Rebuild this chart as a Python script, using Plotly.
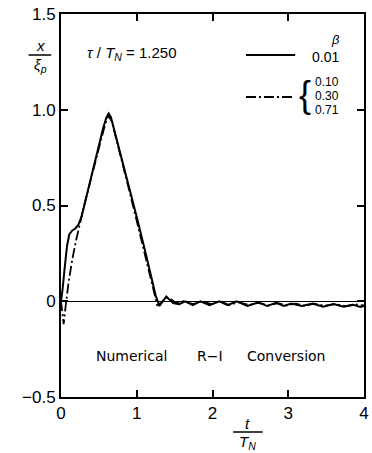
import plotly.graph_objects as go

# beta = 0.01 (solid)
t_solid = [0, 0.02, 0.05, 0.08, 0.11, 0.15, 0.19, 0.23, 0.27, 0.32, 0.38, 0.44, 0.50, 0.56, 0.60, 0.63,
           0.66, 0.72, 0.80, 0.90, 1.00, 1.10, 1.20, 1.25, 1.30, 1.39, 1.48, 1.56, 1.64, 1.74, 1.84,
           1.96, 2.09, 2.20, 2.32, 2.46, 2.61, 2.72, 2.84, 2.94, 3.04, 3.18, 3.32, 3.46, 3.60, 3.73,
           3.86, 3.95, 4.0]
x_solid = [0, 0.06, 0.18, 0.29, 0.35, 0.37, 0.38, 0.40, 0.44, 0.52, 0.63, 0.72, 0.81, 0.91, 0.96, 0.98,
           0.96, 0.87, 0.75, 0.60, 0.44, 0.28, 0.12, 0.03, -0.025, 0.025, -0.01, -0.015, 0.0, -0.02, 0.0,
           -0.02, 0.0, -0.02, 0.0, -0.025, -0.005, -0.025, -0.008, -0.025, -0.012, -0.025, -0.012, -0.028,
           -0.015, -0.028, -0.018, -0.03, -0.025]

# beta = 0.10, 0.30, 0.71 (dash-dot)
t_dd = [0, 0.015, 0.035, 0.06, 0.10, 0.15, 0.20, 0.30, 0.40, 0.50, 0.58, 0.625, 0.67, 0.75, 0.85, 0.95,
        1.05, 1.15, 1.22, 1.27, 1.32, 1.38, 1.44, 1.52, 1.62, 1.74, 1.86, 1.98, 2.10, 2.22, 2.34, 2.48,
        2.60, 2.74, 2.86, 2.98, 3.10, 3.22, 3.34, 3.48, 3.62, 3.76, 3.88, 4.0]
x_dd = [0, -0.06, -0.12, -0.03, 0.10, 0.22, 0.32, 0.49, 0.65, 0.80, 0.92, 0.97, 0.94, 0.82, 0.66, 0.50,
        0.34, 0.18, 0.06, -0.02, -0.01, 0.02, 0.015, -0.01, 0.0, -0.015, 0.0, -0.015, 0.0, -0.02, -0.005,
        -0.02, -0.008, -0.022, -0.01, -0.022, -0.012, -0.024, -0.012, -0.024, -0.015, -0.026, -0.016, -0.022]

x_ticks = [0, 1, 2, 3, 4]
x_tick_labels = ["0", "1", "2", "3", "4"]
y_ticks = [-0.5, 0, 0.5, 1.0, 1.5]
y_tick_labels = ["\u22120.5", "0", "0.5", "1.0", "1.5"]

FONT = "Liberation Sans"
W, H = 372, 453
L, R, T, B = 61, 3, 14, 56
pw, ph = W - L - R, H - T - B

def px(xp):
    return (xp - L) / pw

def py(yp):
    return (H - B - yp) / ph

fig = go.Figure()
fig.add_trace(go.Scatter(x=t_dd, y=x_dd, mode="lines",
                         line=dict(color="black", width=1.8, dash="10px,3px,2px,3px"),
                         showlegend=False))
fig.add_trace(go.Scatter(x=t_solid, y=x_solid, mode="lines",
                         line=dict(color="black", width=2.0), showlegend=False))

ann = []
def a(text, xp, yp, size=15, family=FONT):
    ann.append(dict(text=text, x=px(xp), y=py(yp), xref="paper", yref="paper",
                    xanchor="center", yanchor="middle",
                    showarrow=False, font=dict(family=family, size=size, color="black")))

# y title fraction
a("<i>x</i>", 40, 46, 15)
a("<i>ξ<sub>p</sub></i>", 40, 65, 15)
# x title fraction
a("<i>t</i>", 251, 423, 15)
a("<i>T<sub>N</sub></i>", 251, 442, 15)
# tau text
a("<i>τ</i> / <i>T<sub>N</sub></i> = 1.250", 133, 54, 15)
# legend
a("<i>β</i>", 340, 39, 13)
a("0.01", 330, 57, 14)
a("0.10", 331, 82, 12)
a("0.30", 331, 96, 12)
a("0.71", 331, 110, 12)
a("{", 309, 95, 36)
# bottom text
a("Numerical", 133, 356, 14, "DejaVu Sans")
a("R−I", 212, 356, 14, "DejaVu Sans")
a("Conversion", 290, 356, 14, "DejaVu Sans")

shapes = [
    dict(type="line", xref="paper", yref="paper", x0=px(28), x1=px(51), y0=py(55), y1=py(55),
         line=dict(color="black", width=1.5)),
    dict(type="line", xref="paper", yref="paper", x0=px(236), x1=px(266), y0=py(432), y1=py(432),
         line=dict(color="black", width=1.5)),
    dict(type="line", xref="paper", yref="paper", x0=px(249), x1=px(299), y0=py(55), y1=py(55),
         line=dict(color="black", width=1.8)),
    dict(type="line", xref="paper", yref="paper", x0=px(249), x1=px(297), y0=py(97), y1=py(97),
         line=dict(color="black", width=1.8, dash="10px,3px,2px,3px")),
]

fig.update_layout(
    width=W, height=H,
    margin=dict(l=L, r=R, t=T, b=B, pad=0),
    paper_bgcolor="white", plot_bgcolor="white",
    font=dict(family=FONT, size=17, color="black"),
    annotations=ann, shapes=shapes,
    xaxis=dict(range=[0, 4], tickvals=x_ticks, ticktext=x_tick_labels, ticks="inside", ticklen=7,
               tickwidth=1.5, tickcolor="black", showline=True, linecolor="black", linewidth=2,
               mirror="ticks", showgrid=False, zeroline=False, tickfont=dict(size=17)),
    yaxis=dict(range=[-0.5, 1.5], tickvals=y_ticks, ticktext=y_tick_labels, ticks="inside", ticklen=7,
               tickwidth=1.5, tickcolor="black", showline=True, linecolor="black", linewidth=2,
               mirror="ticks", showgrid=False, zeroline=True, zerolinecolor="black", zerolinewidth=1.2,
               tickfont=dict(size=17)),
)

fig.write_html("out.html", config={"displayModeBar": False},
               post_script="document.body.style.margin='0';document.body.style.padding='0';")
